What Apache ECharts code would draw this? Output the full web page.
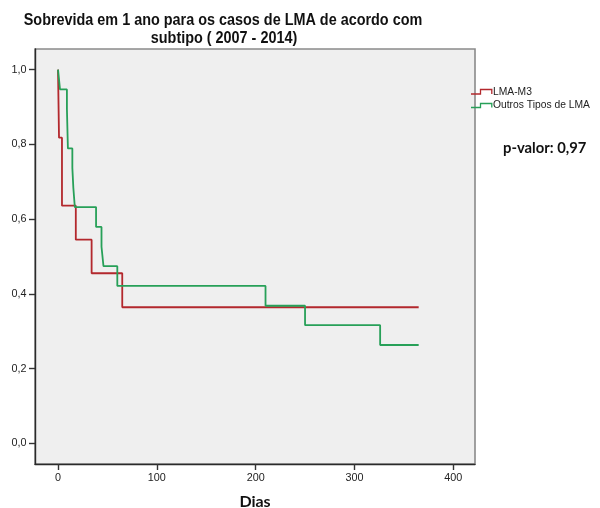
<!DOCTYPE html>
<html>
<head>
<meta charset="utf-8">
<script src="https://cdn.jsdelivr.net/npm/echarts@6/dist/echarts.min.js"></script>
<style>html,body{margin:0;padding:0;background:#fff}#c{width:600px;height:508px}</style>
</head>
<body>
<div id="c"></div>
<script>
// ---- data ----
const titleLines = ['Sobrevida em 1 ano para os casos de LMA de acordo com', 'subtipo ( 2007 - 2014)'];
const seriesNames = ['LMA-M3', 'Outros Tipos de LMA'];
const m3Days = [0, 1, 4, 18, 34, 65, 365];
const m3Surv = [1, 0.818, 0.636, 0.545, 0.455, 0.364, 0.364];
const outrosDays = [0, 2, 9, 10, 14.5, 15.5, 17, 38.5, 44, 46, 60, 210, 250, 326, 365];
const outrosSurv = [1, 0.947, 0.895, 0.789, 0.737, 0.684, 0.632, 0.579, 0.526, 0.474, 0.421, 0.368, 0.316, 0.263, 0.263];
const xTicks = [0, 100, 200, 300, 400];
const yTicks = [0, 0.2, 0.4, 0.6, 0.8, 1.0];
const xName = 'Dias';
const pText = 'p-valor: 0,97';

const colors = ['#b3282d', '#27a058'];
const zip = (a, b) => a.map((v, i) => [v, b[i]]);
const ARIAL = '"Liberation Sans", Arial, sans-serif';

const chart = echarts.init(document.getElementById('c'), null, {renderer: 'canvas'});
chart.setOption({
  backgroundColor: '#ffffff',
  animation: false,
  grid: {left: 35, top: 49, right: 125, bottom: 44, show: true, containLabel: false,
         outerBoundsMode: 'none',
         backgroundColor: '#efefef', borderColor: '#8a8a8a', borderWidth: 1.6},
  xAxis: {
    type: 'value', min: -23.3, max: 422,
    name: xName, nameLocation: 'middle', nameGap: 30,
    nameTextStyle: {fontFamily: 'Lato', fontWeight: 'bold', fontSize: 16, color: '#111'},
    axisLine: {onZero: false, lineStyle: {color: '#2a2a2a', width: 1.4}},
    axisTick: {customValues: xTicks, length: 6, lineStyle: {color: '#333', width: 1.4}},
    axisLabel: {customValues: xTicks, margin: 9, fontFamily: ARIAL, fontSize: 10.8, color: '#222'},
    splitLine: {show: false}
  },
  yAxis: {
    type: 'value', min: -0.0555, max: 1.0552,
    axisLine: {onZero: false, lineStyle: {color: '#2a2a2a', width: 1.4}},
    axisTick: {customValues: yTicks, length: 6, lineStyle: {color: '#333', width: 1.4}},
    axisLabel: {customValues: yTicks, margin: 8.5, fontFamily: ARIAL, fontSize: 10.8, color: '#222',
                formatter: v => v.toFixed(1).replace('.', ',')},
    splitLine: {show: false}
  },
  series: [
    {name: seriesNames[0], type: 'line', step: 'end', showSymbol: false,
     data: zip(m3Days, m3Surv), lineStyle: {color: colors[0], width: 1.8}, itemStyle: {color: colors[0]}},
    {name: seriesNames[1], type: 'line', step: 'end', showSymbol: false,
     data: zip(outrosDays, outrosSurv), lineStyle: {color: colors[1], width: 1.8}, itemStyle: {color: colors[1]}}
  ],
  graphic: [
    {type: 'text', x: 223, y: 21, scaleX: 0.9,
     style: {text: titleLines[0], align: 'center', verticalAlign: 'middle', fill: '#111',
             font: 'bold 16px ' + ARIAL}},
    {type: 'text', x: 224, y: 38.5, scaleX: 0.9,
     style: {text: titleLines[1], align: 'center', verticalAlign: 'middle', fill: '#111',
             font: 'bold 16px ' + ARIAL}},
    {type: 'polyline', shape: {points: [[471, 94], [480.5, 94], [480.5, 89.5], [491.8, 89.5], [491.8, 94]]},
     style: {stroke: colors[0], lineWidth: 1.3, fill: null}},
    {type: 'text', x: 493, y: 92.5,
     style: {text: seriesNames[0], align: 'left', verticalAlign: 'middle', fill: '#222', font: '10.3px ' + ARIAL}},
    {type: 'polyline', shape: {points: [[471, 107.5], [480.5, 107.5], [480.5, 103.5], [491.8, 103.5], [491.8, 107.5]]},
     style: {stroke: colors[1], lineWidth: 1.3, fill: null}},
    {type: 'text', x: 493, y: 104.8,
     style: {text: seriesNames[1], align: 'left', verticalAlign: 'middle', fill: '#222', font: '10.3px ' + ARIAL}},
    {type: 'text', x: 503, y: 148,
     style: {text: pText, align: 'left', verticalAlign: 'middle', fill: '#111', font: 'bold 14.8px Lato'}}
  ]
});
</script>
</body>
</html>
